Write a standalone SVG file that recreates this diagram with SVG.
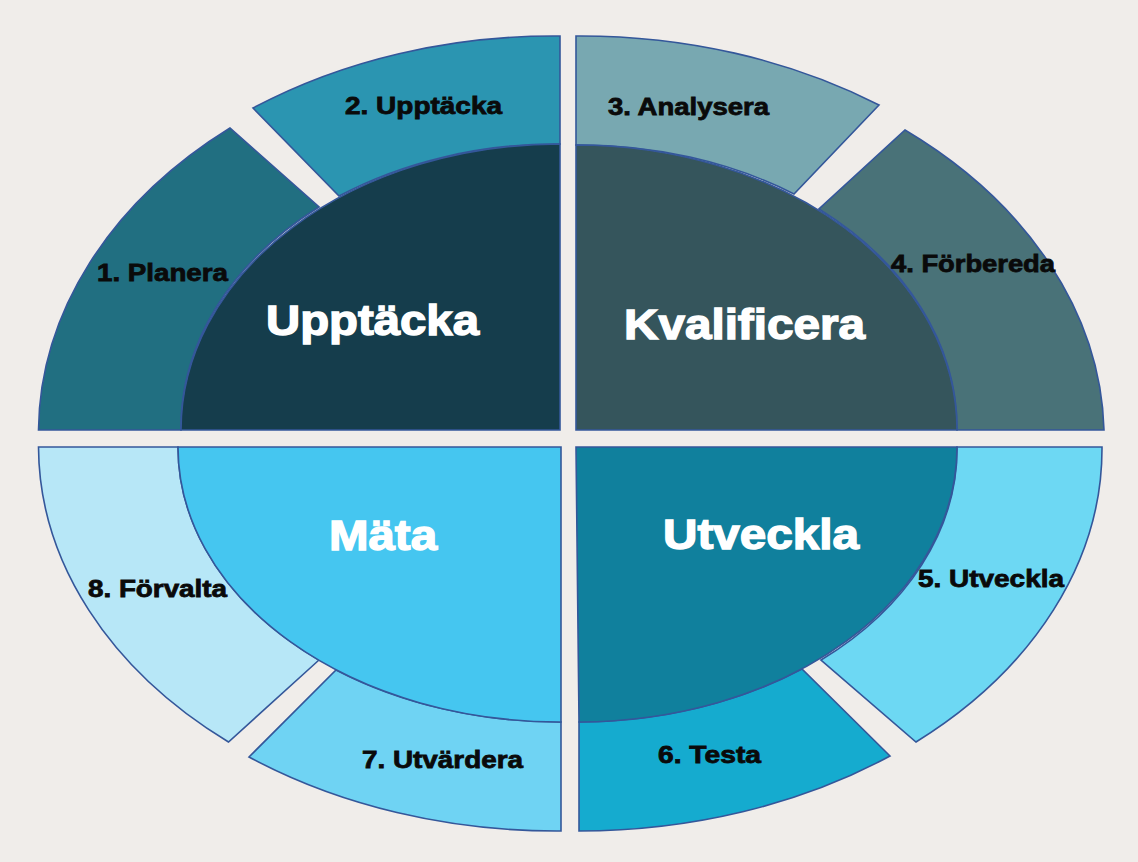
<svg xmlns="http://www.w3.org/2000/svg" width="1138" height="862" viewBox="0 0 1138 862">
<style>
.seg{stroke:#34579a;stroke-width:1.6;stroke-linejoin:miter}
.sm{font-family:"Liberation Sans",Arial,sans-serif;font-weight:bold;font-size:24px;fill:#0a0a0a;stroke:#0a0a0a;stroke-width:0.8}
.lg{font-family:"Liberation Sans",Arial,sans-serif;font-weight:bold;font-size:43px;fill:#ffffff;stroke:#ffffff;stroke-width:1.4}
</style>
<rect width="1138" height="862" fill="#f0edea"/>
<g id="q-upptacka">
<g id="seg1"><path class="seg" fill="#216f81" d="M 38.5 430 A 521.5 394 0 0 1 230 128 L 319 207 A 379 286 0 0 0 181 430 Z"/><text class="sm" x="97" y="281" textLength="131" lengthAdjust="spacingAndGlyphs">1. Planera</text></g>
<g id="seg2"><path class="seg" fill="#2b95b1" d="M 253 108 A 521.5 394 0 0 1 560 36 L 560 144 A 379 286 0 0 0 339 196 Z"/><text class="sm" x="345" y="114" textLength="157" lengthAdjust="spacingAndGlyphs">2. Upptäcka</text></g>
<g id="core-upptacka"><path class="seg" fill="#153d4c" d="M 181 430 A 379 286 0 0 1 560 144 L 560 430 Z"/><text class="lg" x="266" y="335" textLength="213" lengthAdjust="spacingAndGlyphs">Upptäcka</text></g>
</g>
<g id="q-kvalificera">
<g id="seg3"><path class="seg" fill="#78a8b1" d="M 576 36 A 528 394 0 0 1 879 105 L 794 194 A 381 285 0 0 0 576 145 Z"/><text class="sm" x="608" y="115" textLength="161" lengthAdjust="spacingAndGlyphs">3. Analysera</text></g>
<g id="seg4"><path class="seg" fill="#497278" d="M 905 130 A 528 394 0 0 1 1104 430 L 957 430 A 381 285 0 0 0 819 209 Z"/></g>
<g id="core-kvalificera"><path class="seg" fill="#35555c" d="M 576 145 A 381 285 0 0 1 957 430 L 576 430 Z"/><text class="lg" x="624" y="339" textLength="241" lengthAdjust="spacingAndGlyphs">Kvalificera</text></g>
<text class="sm" x="891" y="272" textLength="164" lengthAdjust="spacingAndGlyphs">4. Förbereda</text>
</g>
<g id="q-mata">
<g id="seg8"><path class="seg" fill="#b7e7f7" d="M 38.5 447 A 521.5 384 0 0 0 228.5 742 L 319 660 A 382 275 0 0 1 178 447 Z"/></g>
<g id="seg7"><path class="seg" fill="#6fd3f3" d="M 249 757 A 521.5 384 0 0 0 561 831 L 561 722 A 382 275 0 0 1 336 670 Z"/><text class="sm" x="362" y="768" textLength="161" lengthAdjust="spacingAndGlyphs">7. Utvärdera</text></g>
<g id="core-mata"><path class="seg" fill="#45c6f0" d="M 178 447 A 382 275 0 0 0 561 722 L 561 447 Z"/><text class="lg" x="329" y="550" textLength="108" lengthAdjust="spacingAndGlyphs">Mäta</text></g>
<text class="sm" x="88" y="597" textLength="139" lengthAdjust="spacingAndGlyphs">8. Förvalta</text>
</g>
<g id="q-utveckla">
<g id="seg5"><path class="seg" fill="#6dd8f3" d="M 1102 447 A 524 384 0 0 1 916 742 L 821 660 A 379 275 0 0 0 957 447 Z"/></g>
<g id="seg6"><path class="seg" fill="#15abcf" d="M 890 756 A 524 384 0 0 1 579 831 L 579 722 A 379 275 0 0 0 802 669 Z"/><text class="sm" x="658" y="763" textLength="103" lengthAdjust="spacingAndGlyphs">6. Testa</text></g>
<g id="core-utveckla"><path class="seg" fill="#10809d" d="M 576 447 L 957 447 A 379 275 0 0 1 579 722 Z"/><text class="lg" x="663" y="549" textLength="196" lengthAdjust="spacingAndGlyphs">Utveckla</text></g>
<text class="sm" x="918" y="587" textLength="146" lengthAdjust="spacingAndGlyphs">5. Utveckla</text>
</g>
<g id="connectors"></g>
</svg>
